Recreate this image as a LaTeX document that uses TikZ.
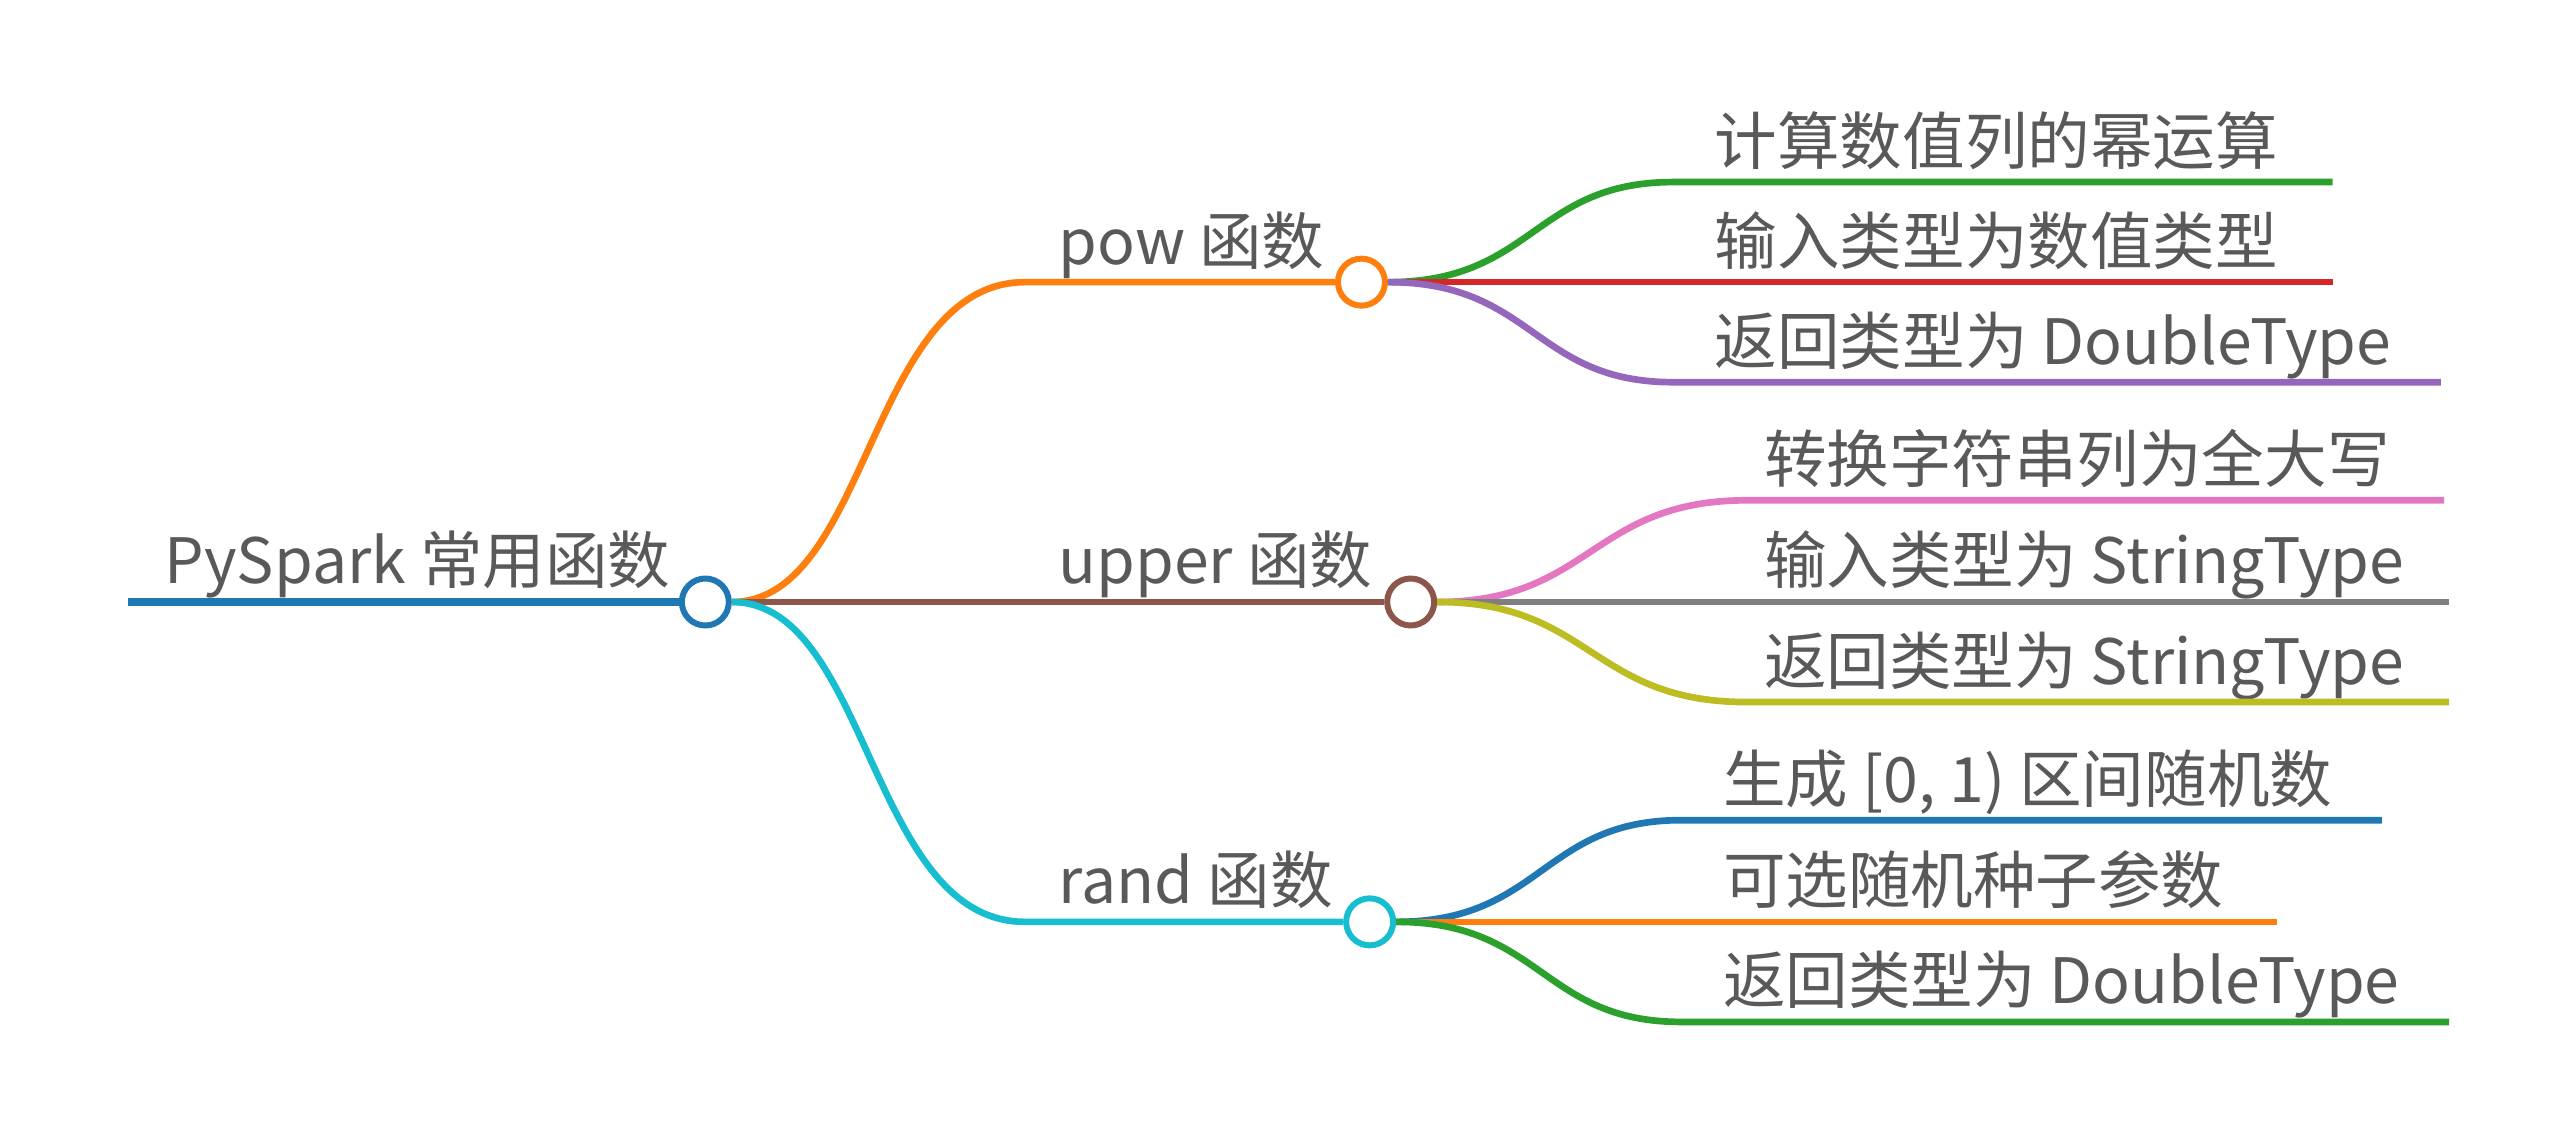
\documentclass[tikz,border=0pt]{standalone}
\usepackage{fontspec}
\setmainfont{Noto Sans CJK SC}
\usetikzlibrary{positioning}
\definecolor{cblue}{HTML}{1F77B4}
\definecolor{corange}{HTML}{FF7F0E}
\definecolor{cgreen}{HTML}{2CA02C}
\definecolor{cred}{HTML}{D62728}
\definecolor{cpurple}{HTML}{9467BD}
\definecolor{cbrown}{HTML}{8C564B}
\definecolor{cpink}{HTML}{E377C2}
\definecolor{cgray}{HTML}{7F7F7F}
\definecolor{colive}{HTML}{BCBD22}
\definecolor{ccyan}{HTML}{17BECF}
\definecolor{ctext}{HTML}{595959}

\begin{document}
\begin{tikzpicture}[x=0.0164cm,y=-0.0164cm]
    \tikzset{dot/.style={draw,circle,fill=white,line width=1.7pt,minimum size=0.47cm,inner sep=0pt},
             lbl/.style={anchor=base west,text=ctext,font=\fontsize{17.8pt}{20pt}\selectfont,inner sep=0pt},
             branch/.style={line width=1.9pt}}
    \useasboundingbox (0,0) rectangle (1568,685);
    % root
    \coordinate (rs) at (78,367);
    \node[dot,draw=cblue] (root) at (430,367) {};
    \node[lbl] (rootl) at (100,356) {PySpark 常用函数};
    % level one
    \node[dot,draw=corange] (pow) at (830,172) {};
    \node[dot,draw=cbrown] (upper) at (860,367) {};
    \node[dot,draw=ccyan] (rand) at (835,562) {};
    \node[lbl] (powl) at (645,161) {pow 函数};
    \node[lbl] (upperl) at (645,356) {upper 函数};
    \node[lbl] (randl) at (645,551) {rand 函数};
    % leaf ends
    \coordinate (p1) at (1422,111);
    \coordinate (p2) at (1422,172);
    \coordinate (p3) at (1488,233);
    \coordinate (u1) at (1490,305);
    \coordinate (u2) at (1493,367);
    \coordinate (u3) at (1493,428);
    \coordinate (r1) at (1452,500);
    \coordinate (r2) at (1388,562);
    \coordinate (r3) at (1493,623);
    \node[lbl] (p1l) at (1045,100) {计算数值列的幂运算};
    \node[lbl] (p2l) at (1045,161) {输入类型为数值类型};
    \node[lbl] (p3l) at (1045,222) {返回类型为 DoubleType};
    \node[lbl] (u1l) at (1075,294) {转换字符串列为全大写};
    \node[lbl] (u2l) at (1075,356) {输入类型为 StringType};
    \node[lbl] (u3l) at (1075,417) {返回类型为 StringType};
    \node[lbl] (r1l) at (1050,489) {生成 [0, 1) 区间随机数};
    \node[lbl] (r2l) at (1050,551) {可选随机种子参数};
    \node[lbl] (r3l) at (1050,612) {返回类型为 DoubleType};

    \draw[branch,cblue,line width=2.3pt] (rs) -- (root.west);
    \draw[branch,corange] (root.east) .. controls (530,367) and (530,172) .. (625,172) -- (pow.west);
    \draw[branch,cbrown] (root.east) -- (upper.west);
    \draw[branch,ccyan] (root.east) .. controls (530,367) and (530,562) .. (625,562) -- (rand.west);

    \draw[branch,cgreen] (pow.east) .. controls (935,172) and (935,111) .. (1020,111) -- (p1);
    \draw[branch,cred] (pow.east) -- (p2);
    \draw[branch,cpurple] (pow.east) .. controls (935,172) and (935,233) .. (1020,233) -- (p3);
    \draw[branch,cpink] (upper.east) .. controls (970,367) and (970,305) .. (1065,305) -- (u1);
    \draw[branch,cgray] (upper.east) -- (u2);
    \draw[branch,colive] (upper.east) .. controls (970,367) and (970,428) .. (1065,428) -- (u3);
    \draw[branch,cblue] (rand.east) .. controls (940,562) and (940,500) .. (1025,500) -- (r1);
    \draw[branch,corange] (rand.east) -- (r2);
    \draw[branch,cgreen] (rand.east) .. controls (940,562) and (940,623) .. (1025,623) -- (r3);
\end{tikzpicture}
\end{document}
